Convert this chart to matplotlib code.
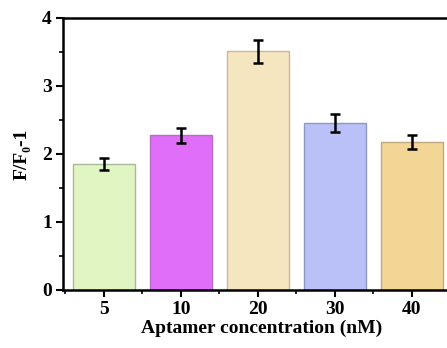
import matplotlib.pyplot as plt
import numpy as np
from matplotlib.ticker import MultipleLocator

plt.rcParams['font.family'] = ['Liberation Serif', 'DejaVu Serif']
plt.rcParams['font.weight'] = 'bold'

categories = ['5', '10', '20', '30', '40']
values = [1.85, 2.27, 3.51, 2.45, 2.17]
errors = [0.09, 0.11, 0.17, 0.13, 0.10]
colors = ['#e1f5c2', '#e06ef8', '#f6e6c0', '#b9c1f8', '#f3d596']
edges = ['#a8b898', '#b070c0', '#c8b898', '#9098c0', '#c0a880']

fig = plt.figure(figsize=(4.47, 3.48), dpi=100)
# axes runs past the right edge: the reference is cropped there
ax = fig.add_axes([0.141, 0.167, 0.889, 0.782])

x = np.arange(len(categories))
ax.bar(x, values, width=0.8, color=colors, edgecolor=edges, linewidth=1.0)
ax.errorbar(x, values, yerr=errors, fmt='none', ecolor='black',
            elinewidth=1.8, capsize=3.5, capthick=1.8)

ax.set_xlim(-0.53, 4.63)
ax.set_ylim(0, 4)
ax.set_xticks(x)
ax.set_xticklabels(categories)
ax.set_xticks(np.arange(-0.5, 5, 1.0), minor=True)
ax.yaxis.set_major_locator(MultipleLocator(1))
ax.yaxis.set_minor_locator(MultipleLocator(0.5))

for s in ['left', 'bottom', 'top', 'right']:
    ax.spines[s].set_linewidth(1.8)

ax.tick_params(axis='both', which='major', direction='out', length=5, width=1.5,
               labelsize=14, pad=3)
ax.tick_params(axis='both', which='minor', direction='out', length=3, width=1.2)

ax.set_xlabel('Aptamer concentration (nM)', fontsize=14, fontweight='bold', labelpad=1)
ax.set_ylabel('F/F\u2080-1', fontsize=14, fontweight='bold', labelpad=8)

fig.savefig('out.png', dpi=100)
